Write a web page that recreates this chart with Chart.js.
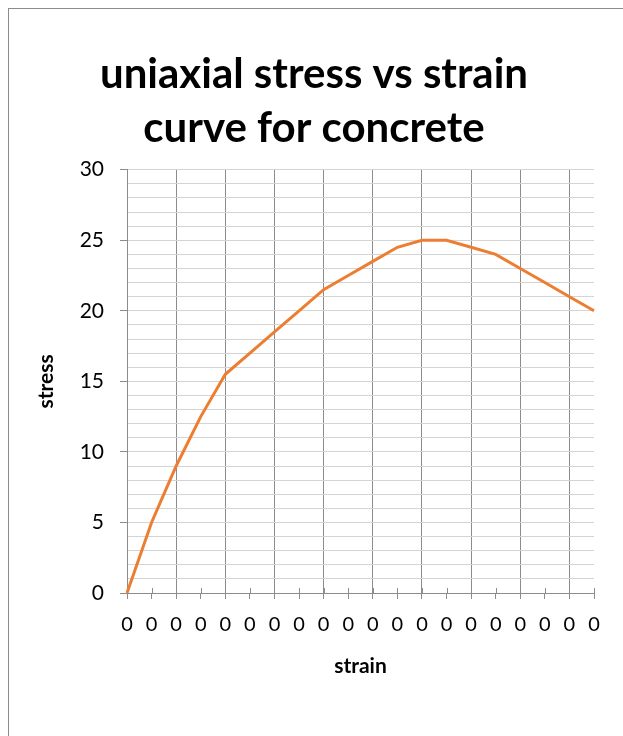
<!DOCTYPE html>
<html>
<head>
<meta charset="utf-8">
<script src="https://cdn.jsdelivr.net/npm/chart.js@4"></script>
<style>
  body { margin: 0; background: #fff; }
  #wrap { position: relative; width: 623px; height: 736px; }
  #frame { position: absolute; left: 8px; top: 8px; right: -5px; bottom: -5px;
           border-top: 1px solid #8c8c8c; border-left: 1px solid #8c8c8c; }
  canvas { position: absolute; left: 0; top: 0; }
</style>
</head>
<body>
<div id="wrap">
  <div id="frame"></div>
  <canvas id="grafico" width="623" height="736"></canvas>
</div>
<script>
// categorias do eixo x (rótulos do Excel, todos "0")
const strainLabels = ["0","0","0","0","0","0","0","0","0","0",
                      "0","0","0","0","0","0","0","0","0","0"];

// valores
const stressValues = [0, 5, 9, 12.5, 15.5, 17, 18.5, 20, 21.5, 22.5,
                      23.5, 24.5, 25, 25, 24.5, 24, 23, 22, 21, 20];

const titleLines = ["uniaxial stress vs strain", "curve for concrete"];

const GRID_DARK = "#8c8c8c";
const GRID_LIGHT = "#d4d4d4";

// pequenos traços para dentro do eixo x (estilo Excel)
const innerTicks = {
  id: "innerTicks",
  beforeDatasetsDraw(chart) {
    const x = chart.scales.x;
    const ctx = chart.ctx;
    ctx.save();
    ctx.strokeStyle = GRID_DARK;
    ctx.lineWidth = 1;
    x.ticks.forEach((t, i) => {
      const px = Math.round(x.getPixelForTick(i)) + 0.5;
      ctx.beginPath();
      ctx.moveTo(px, x.top - 5);
      ctx.lineTo(px, x.top);
      ctx.stroke();
    });
    ctx.restore();
  }
};

function desenharGrafico() {
  const ctx = document.getElementById("grafico").getContext("2d");
  new Chart(ctx, {
    type: "line",
    data: {
      labels: strainLabels,
      datasets: [{
        data: stressValues,
        borderColor: "#ED7D31",
        borderWidth: 3,
        pointRadius: 0,
        tension: 0,
        fill: false
      }]
    },
    options: {
      responsive: false,
      animation: false,
      layout: { padding: { left: 34, right: 29, top: 48, bottom: 53 } },
      plugins: {
        legend: { display: false },
        tooltip: { enabled: false },
        title: {
          display: true,
          text: titleLines,
          color: "#000",
          font: { family: "Lato", size: 42, weight: "bold", lineHeight: 1.27 },
          padding: { top: 0, bottom: 15 }
        }
      },
      scales: {
        x: {
          type: "category",
          offset: false,
          border: { display: true, color: GRID_DARK, width: 1 },
          grid: {
            color: c => (c.index % 2 === 0 ? GRID_DARK : "rgba(0,0,0,0)"),
            tickColor: GRID_DARK,
            tickLength: 6,
            drawTicks: true
          },
          ticks: {
            color: "#000",
            font: { family: "Lato", size: 20 },
            autoSkip: false,
            maxRotation: 0,
            padding: 14
          },
          title: {
            display: true,
            text: "strain",
            color: "#000",
            font: { family: "Lato", size: 21, weight: "bold" },
            padding: { top: 13 }
          },
          afterFit: s => { s.height = 90; }
        },
        y: {
          min: 0,
          max: 30,
          border: { display: true, color: GRID_DARK, width: 1 },
          grid: {
            color: c => (c.tick.value === 0 ? GRID_DARK : GRID_LIGHT),
            tickColor: c => (c.tick.value % 5 === 0 ? GRID_DARK : "rgba(0,0,0,0)"),
            tickLength: 7
          },
          ticks: {
            stepSize: 1,
            autoSkip: false,
            maxTicksLimit: 31,
            color: "#000",
            font: { family: "Lato", size: 21 },
            padding: 16,
            callback: v => (v % 5 === 0 ? String(v) : "")
          },
          title: {
            display: true,
            text: "stress",
            color: "#000",
            font: { family: "Lato", size: 21, weight: "bold" },
            padding: { top: 0, bottom: 8 }
          },
          afterFit: s => { s.width = 93; }
        }
      }
    },
    plugins: [innerTicks]
  });
}

document.addEventListener("DOMContentLoaded", desenharGrafico);
</script>
</body>
</html>
